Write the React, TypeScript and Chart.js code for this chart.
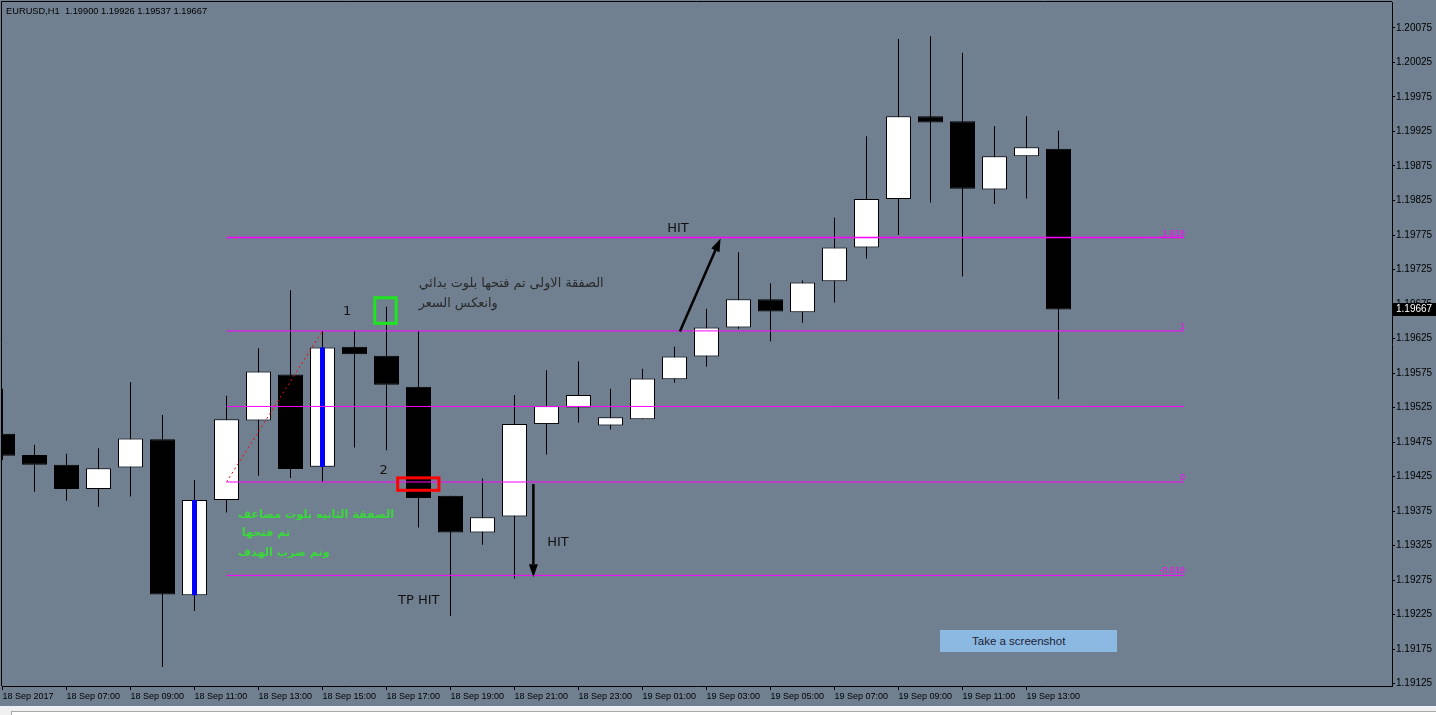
import React, { useEffect, useRef } from "react";
import { Chart, registerables } from "chart.js";

Chart.register(...registerables);

// ---------- data ----------
const symbolTitle = "EURUSD,H1";

const timeLabels = [
  "18 Sep 2017", "18 Sep 07:00", "18 Sep 09:00", "18 Sep 11:00", "18 Sep 13:00",
  "18 Sep 15:00", "18 Sep 17:00", "18 Sep 19:00", "18 Sep 21:00", "18 Sep 23:00",
  "19 Sep 01:00", "19 Sep 03:00", "19 Sep 05:00", "19 Sep 07:00", "19 Sep 09:00",
  "19 Sep 11:00", "19 Sep 13:00",
];
const barsPerLabel = 2;

const opens = [
  1.19487, 1.19456, 1.19442, 1.19407, 1.19438, 1.19479, 1.19253, 1.19391, 1.19506, 1.19573,
  1.19439, 1.19613, 1.19600, 1.19555, 1.19397, 1.19344, 1.19367, 1.19501, 1.19525, 1.19499,
  1.19508, 1.19566, 1.19599, 1.19641, 1.19682, 1.19663, 1.19708, 1.19757, 1.19827, 1.19947,
  1.19940, 1.19841, 1.19889, 1.19900,
];
const highs = [
  1.19552, 1.19471, 1.19458, 1.19466, 1.19562, 1.19514, 1.19420, 1.19542, 1.19611, 1.19695,
  1.19636, 1.19636, 1.19671, 1.19636, 1.19397, 1.19422, 1.19543, 1.19579, 1.19592, 1.19552,
  1.19581, 1.19613, 1.19668, 1.19750, 1.19705, 1.19709, 1.19800, 1.19918, 1.20059, 1.20063,
  1.20039, 1.19933, 1.19947, 1.19926,
];
const lows = [
  1.19449, 1.19403, 1.19390, 1.19381, 1.19396, 1.19149, 1.19230, 1.19373, 1.19426, 1.19423,
  1.19417, 1.19467, 1.19463, 1.19351, 1.19223, 1.19326, 1.19277, 1.19457, 1.19503, 1.19493,
  1.19508, 1.19561, 1.19584, 1.19639, 1.19621, 1.19648, 1.19677, 1.19741, 1.19775, 1.19822,
  1.19715, 1.19820, 1.19828, 1.19537,
];
const closes = [
  1.19455, 1.19442, 1.19407, 1.19437, 1.19480, 1.19254, 1.19391, 1.19508, 1.19577, 1.19436,
  1.19612, 1.19602, 1.19558, 1.19394, 1.19344, 1.19366, 1.19501, 1.19527, 1.19543, 1.19511,
  1.19567, 1.19599, 1.19641, 1.19682, 1.19664, 1.19706, 1.19757, 1.19827, 1.19947, 1.19938,
  1.19842, 1.19889, 1.19902, 1.19667,
];

const markedCandles = [6, 10];

const priceTicks = [
  1.19125, 1.19175, 1.19225, 1.19275, 1.19325, 1.19375, 1.19425, 1.19475, 1.19525, 1.19575,
  1.19625, 1.19675, 1.19725, 1.19775, 1.19825, 1.19875, 1.19925, 1.19975, 1.20025, 1.20075,
];

const fibLevels = [1.618, 1, 0.5, 0, -0.618];
const fibLevelLabels = ["1.618", "1", "", "0", "-0.618"];
const fibLineWidths = [1.6, 1, 1, 1, 1];
const fibLowPrice = 1.19417;
const fibHighPrice = 1.19636;
const fibStartBar = 7;
const fibAnchorBar = 10;
const fibEndBar = 36.92;

// visible window
const xMin = -0.015625;
const xMax = 43.421875;
const yMin = 1.1912138;
const yMax = 1.2011268;

// ---------- annotations (in bar index / price units) ----------
const ARABIC_FONT = '"DejaVu Sans", "Noto Sans", sans-serif';
const textNotes = [
  { text: "1", bar: 10.766, price: 1.19664, align: "center", color: "#141414", font: '13px "DejaVu Sans"' },
  { text: "2", bar: 11.91, price: 1.19433, align: "center", color: "#141414", font: '13px "DejaVu Sans"' },
  { text: "الصفقة الاولى تم فتحها بلوت بدائي", bar: 13.006, price: 1.19704, align: "left", color: "#2a2a2a", font: "12.8px " + ARABIC_FONT },
  { text: "وانعكس السعر", bar: 13.006, price: 1.19675, align: "left", color: "#2a2a2a", font: "12.8px " + ARABIC_FONT },
  { text: "الصفقة الثانيه بلوت مضاعف", bar: 7.359, price: 1.19369, align: "left", color: "#3ad83a", font: "bold 11.2px " + ARABIC_FONT },
  { text: "تم فتحها", bar: 7.475, price: 1.19343, align: "left", color: "#3ad83a", font: "bold 11.2px " + ARABIC_FONT },
  { text: "وتم ضرب الهدف", bar: 7.359, price: 1.19314, align: "left", color: "#3ad83a", font: "bold 11.2px " + ARABIC_FONT },
  { text: "TP HIT", bar: 12.36, price: 1.19245, align: "left", color: "#111111", font: '13px "DejaVu Sans"' },
  { text: "HIT", bar: 17.02, price: 1.19329, align: "left", color: "#111111", font: '13px "DejaVu Sans"' },
  { text: "HIT", bar: 20.77, price: 1.19784, align: "left", color: "#111111", font: '13px "DejaVu Sans"' },
];
const boxNotes = [
  { bar1: 11.634, bar2: 12.303, price1: 1.19684, price2: 1.19647, color: "#1ee61e" },
  { bar1: 12.35, bar2: 13.64, price1: 1.19423, price2: 1.19405, color: "#ff0000" },
];
const arrowNotes = [
  { bar1: 16.59, price1: 1.19414, bar2: 16.59, price2: 1.19279 },
  { bar1: 21.17, price1: 1.19635, bar2: 22.44, price2: 1.19770 },
];

const fmt5 = (v: number) => v.toFixed(5);

const notesPlugin = {
  id: "notes",
  afterDraw(chart: any) {
    const { ctx, chartArea } = chart;
    const xs = chart.scales.x;
    const ys = chart.scales.y;
    const X = (v: number) => xs.getPixelForValue(v);
    const Y = (v: number) => ys.getPixelForValue(v);
    ctx.save();

    // frame top / left
    ctx.strokeStyle = "#000";
    ctx.lineWidth = 1;
    ctx.beginPath();
    ctx.moveTo(chartArea.left - 0.5, chartArea.bottom);
    ctx.lineTo(chartArea.left - 0.5, chartArea.top - 0.5);
    ctx.lineTo(chartArea.right, chartArea.top - 0.5);
    ctx.stroke();

    // header
    const n = opens.length - 1;
    ctx.fillStyle = "#000";
    ctx.font = '9.3px "Liberation Sans", Arial, sans-serif';
    ctx.textAlign = "left";
    ctx.textBaseline = "middle";
    ctx.fillText(
      `${symbolTitle}  ${fmt5(opens[n])} ${fmt5(highs[n])} ${fmt5(lows[n])} ${fmt5(closes[n])}`,
      chartArea.left + 4,
      chartArea.top + 9
    );

    // fib labels
    ctx.fillStyle = "#ff00ff";
    ctx.font = '9px "Liberation Sans", Arial, sans-serif';
    ctx.textAlign = "right";
    ctx.textBaseline = "alphabetic";
    fibLevels.forEach((lv, k) => {
      const lbl = fibLevelLabels[k];
      if (!lbl) return;
      const p = fibLowPrice + lv * (fibHighPrice - fibLowPrice);
      ctx.fillText(lbl, X(fibEndBar) + 1, Y(p) - 2);
    });

    // boxes
    boxNotes.forEach((b) => {
      ctx.strokeStyle = b.color;
      ctx.lineWidth = 3;
      const x1 = X(b.bar1), x2 = X(b.bar2), y1 = Y(b.price1), y2 = Y(b.price2);
      ctx.strokeRect(Math.min(x1, x2), Math.min(y1, y2), Math.abs(x2 - x1), Math.abs(y2 - y1));
    });

    // arrows
    arrowNotes.forEach((a) => {
      const x1 = X(a.bar1), y1 = Y(a.price1), x2 = X(a.bar2), y2 = Y(a.price2);
      const ang = Math.atan2(y2 - y1, x2 - x1);
      const headLen = 13, headHalf = 4.5;
      const bx = x2 - headLen * Math.cos(ang), by = y2 - headLen * Math.sin(ang);
      ctx.strokeStyle = "#000";
      ctx.fillStyle = "#000";
      ctx.lineWidth = 2.5;
      ctx.beginPath();
      ctx.moveTo(x1, y1);
      ctx.lineTo(bx, by);
      ctx.stroke();
      ctx.beginPath();
      ctx.moveTo(x2, y2);
      ctx.lineTo(bx + headHalf * Math.sin(ang), by - headHalf * Math.cos(ang));
      ctx.lineTo(bx - headHalf * Math.sin(ang), by + headHalf * Math.cos(ang));
      ctx.closePath();
      ctx.fill();
    });

    // texts
    ctx.textBaseline = "middle";
    textNotes.forEach((t) => {
      ctx.font = t.font;
      ctx.fillStyle = t.color;
      ctx.textAlign = t.align as CanvasTextAlign;
      ctx.fillText(t.text, X(t.bar), Y(t.price));
    });

    // current price tag
    const yc = Y(closes[n]);
    ctx.fillStyle = "#000";
    ctx.fillRect(chartArea.right, Math.round(yc) - 7, chart.width - chartArea.right, 13);
    ctx.fillStyle = "#fff";
    ctx.font = '10px "Liberation Sans", Arial, sans-serif';
    ctx.textAlign = "left";
    ctx.textBaseline = "middle";
    ctx.fillText(fmt5(closes[n]), chartArea.right + 4, Math.round(yc) - 0.5);

    ctx.restore();
  },
};

export default function App() {
  const ref = useRef<HTMLCanvasElement>(null);

  useEffect(() => {
    document.body.style.margin = "0";
    const canvas = ref.current;
    if (!canvas) return;

    const idx = opens.map((_, i) => i);
    const wickData = idx.map((i) => ({ x: i, y: [lows[i], highs[i]] }));
    const bodyData = idx.map((i) => ({ x: i, y: [opens[i], closes[i]] }));
    const bodyColors = idx.map((i) => (closes[i] >= opens[i] ? "#ffffff" : "#000000"));
    const markData = markedCandles.map((i) => ({ x: i, y: [opens[i], closes[i]] }));

    const fibDatasets = fibLevels.map((lv, k) => {
      const p = fibLowPrice + lv * (fibHighPrice - fibLowPrice);
      return {
        type: "line" as const,
        data: [{ x: fibStartBar, y: p }, { x: fibEndBar, y: p }],
        borderColor: "#ff00ff",
        borderWidth: fibLineWidths[k],
        pointRadius: 0,
        order: 0,
      };
    });

    const trendDataset = {
      type: "line" as const,
      data: [{ x: fibStartBar, y: fibLowPrice }, { x: fibAnchorBar, y: fibHighPrice }],
      borderColor: "#ff0000",
      borderWidth: 1,
      borderDash: [2, 3],
      pointRadius: 0,
      order: 0,
    };

    const zeroPad = (s: any) => {
      s.paddingTop = 0;
      s.paddingBottom = 0;
      s.paddingLeft = 0;
      s.paddingRight = 0;
    };

    const chart = new Chart(canvas, {
      type: "bar",
      data: {
        datasets: [
          {
            type: "bar",
            data: markData as any,
            backgroundColor: "#0000ff",
            borderWidth: 0,
            barThickness: 5,
            grouped: false,
            inflateAmount: 0,
            order: 1,
          },
          {
            type: "bar",
            data: bodyData as any,
            backgroundColor: bodyColors,
            borderColor: "#000000",
            borderWidth: 1,
            borderSkipped: false,
            barThickness: 25,
            grouped: false,
            inflateAmount: 0,
            order: 2,
          },
          {
            type: "bar",
            data: wickData as any,
            backgroundColor: "#000000",
            borderWidth: 0,
            barThickness: 1,
            grouped: false,
            inflateAmount: 0,
            order: 3,
          },
          ...fibDatasets,
          trendDataset,
        ] as any,
      },
      options: {
        responsive: false,
        animation: false,
        devicePixelRatio: 1,
        layout: { padding: { top: 2, left: 2, right: 0, bottom: 0 } },
        plugins: { legend: { display: false }, tooltip: { enabled: false } },
        events: [],
        scales: {
          x: {
            type: "linear",
            min: xMin,
            max: xMax,
            offset: false,
            bounds: "data",
            grid: { drawOnChartArea: false, drawTicks: true, tickLength: 4, color: "#000", offset: false },
            border: { display: true, color: "#000", width: 1 },
            ticks: {
              autoSkip: false,
              maxRotation: 0,
              minRotation: 0,
              align: "start",
              padding: 1,
              color: "#000",
              font: { family: '"Liberation Sans", Arial, sans-serif', size: 9 },
              callback: (_v: any, i: number) => timeLabels[i] ?? "",
            },
            afterBuildTicks: (s: any) => {
              s.ticks = timeLabels.map((_, k) => ({ value: k * barsPerLabel }));
            },
            afterFit: (s: any) => {
              s.height = 20;
              zeroPad(s);
            },
          },
          y: {
            type: "linear",
            position: "right",
            min: yMin,
            max: yMax,
            bounds: "data",
            beginAtZero: false,
            grid: { drawOnChartArea: false, drawTicks: true, tickLength: 3, color: "#000" },
            border: { display: true, color: "#000", width: 1 },
            ticks: {
              padding: 1,
              color: "#000",
              font: { family: '"Liberation Sans", Arial, sans-serif', size: 10 },
              callback: (v: any) => Number(v).toFixed(5),
            },
            afterBuildTicks: (s: any) => {
              s.ticks = priceTicks.map((v) => ({ value: v }));
            },
            afterFit: (s: any) => {
              s.width = 44;
              zeroPad(s);
            },
          },
        },
      } as any,
      plugins: [notesPlugin],
    });

    return () => chart.destroy();
  }, []);

  return (
    <div
      style={{
        position: "relative",
        width: 1436,
        height: 715,
        background: "#708090",
        overflow: "hidden",
      }}
    >
      <canvas ref={ref} width={1436} height={706} style={{ display: "block" }} />
      <div
        style={{
          position: "absolute",
          left: 940,
          top: 630,
          width: 177,
          height: 22,
          background: "#8cb9e2",
          color: "#1c2233",
          font: '11.5px "Liberation Sans", Arial, sans-serif',
          lineHeight: "22px",
          paddingLeft: 32,
          boxSizing: "border-box",
        }}
      >
        Take a screenshot
      </div>
      <div
        style={{
          position: "absolute",
          left: 0,
          top: 706,
          width: 1436,
          height: 9,
          background: "#f0f0f0",
        }}
      >
        <div
          style={{
            position: "absolute",
            left: 11,
            top: 5,
            right: 0,
            height: 4,
            background: "#ffffff",
            borderTop: "1px solid #a9a9a9",
            borderLeft: "1px solid #a9a9a9",
          }}
        />
      </div>
    </div>
  );
}
